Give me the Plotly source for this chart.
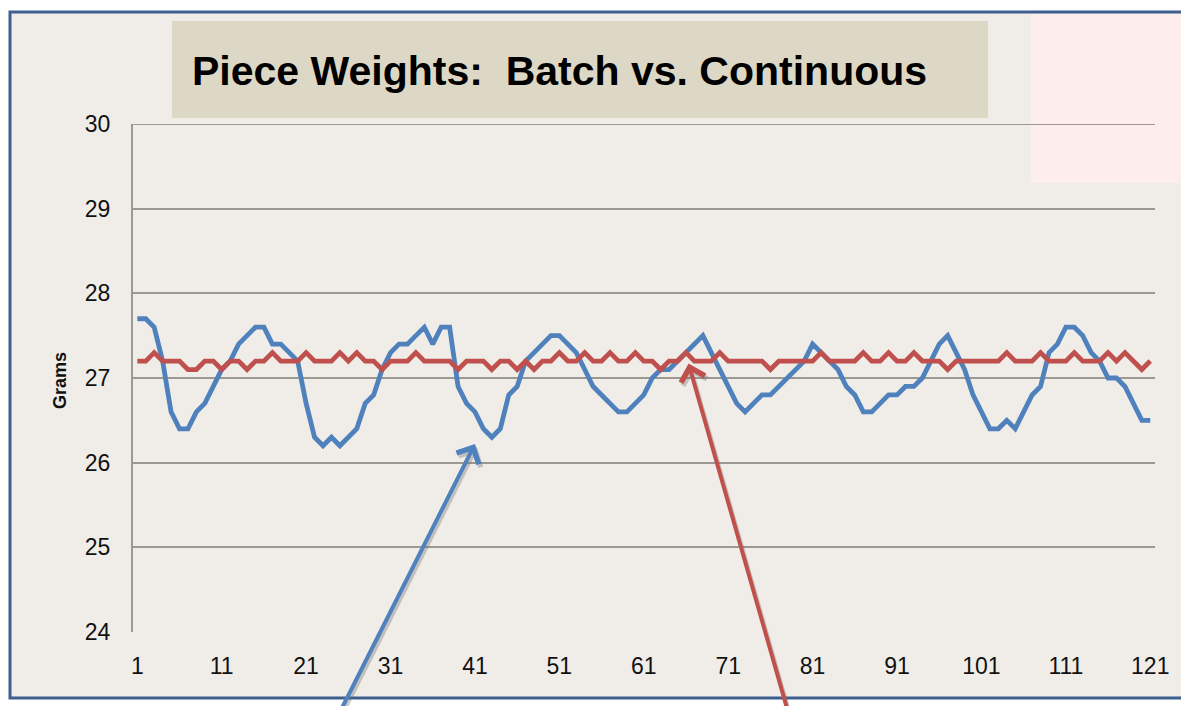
import plotly.graph_objects as go

piece = list(range(1, 122))

batch = [
    27.7, 27.7, 27.6, 27.2, 26.6, 26.4, 26.4, 26.6, 26.7, 26.9,
    27.1, 27.2, 27.4, 27.5, 27.6, 27.6, 27.4, 27.4, 27.3, 27.2,
    26.7, 26.3, 26.2, 26.3, 26.2, 26.3, 26.4, 26.7, 26.8, 27.1,
    27.3, 27.4, 27.4, 27.5, 27.6, 27.4, 27.6, 27.6, 26.9, 26.7,
    26.6, 26.4, 26.3, 26.4, 26.8, 26.9, 27.2, 27.3, 27.4, 27.5,
    27.5, 27.4, 27.3, 27.1, 26.9, 26.8, 26.7, 26.6, 26.6, 26.7,
    26.8, 27.0, 27.1, 27.1, 27.2, 27.3, 27.4, 27.5, 27.3, 27.1,
    26.9, 26.7, 26.6, 26.7, 26.8, 26.8, 26.9, 27.0, 27.1, 27.2,
    27.4, 27.3, 27.2, 27.1, 26.9, 26.8, 26.6, 26.6, 26.7, 26.8,
    26.8, 26.9, 26.9, 27.0, 27.2, 27.4, 27.5, 27.3, 27.1, 26.8,
    26.6, 26.4, 26.4, 26.5, 26.4, 26.6, 26.8, 26.9, 27.3, 27.4,
    27.6, 27.6, 27.5, 27.3, 27.2, 27.0, 27.0, 26.9, 26.7, 26.5,
    26.5,
]

continuous = [
    27.2, 27.2, 27.3, 27.2, 27.2, 27.2, 27.1, 27.1, 27.2, 27.2,
    27.1, 27.2, 27.2, 27.1, 27.2, 27.2, 27.3, 27.2, 27.2, 27.2,
    27.3, 27.2, 27.2, 27.2, 27.3, 27.2, 27.3, 27.2, 27.2, 27.1,
    27.2, 27.2, 27.2, 27.3, 27.2, 27.2, 27.2, 27.2, 27.1, 27.2,
    27.2, 27.2, 27.1, 27.2, 27.2, 27.1, 27.2, 27.1, 27.2, 27.2,
    27.3, 27.2, 27.2, 27.3, 27.2, 27.2, 27.3, 27.2, 27.2, 27.3,
    27.2, 27.2, 27.1, 27.2, 27.2, 27.3, 27.2, 27.2, 27.2, 27.3,
    27.2, 27.2, 27.2, 27.2, 27.2, 27.1, 27.2, 27.2, 27.2, 27.2,
    27.2, 27.3, 27.2, 27.2, 27.2, 27.2, 27.3, 27.2, 27.2, 27.3,
    27.2, 27.2, 27.3, 27.2, 27.2, 27.2, 27.1, 27.2, 27.2, 27.2,
    27.2, 27.2, 27.2, 27.3, 27.2, 27.2, 27.2, 27.3, 27.2, 27.2,
    27.2, 27.3, 27.2, 27.2, 27.2, 27.3, 27.2, 27.3, 27.2, 27.1,
    27.2,
]

x_ticks = [1, 11, 21, 31, 41, 51, 61, 71, 81, 91, 101, 111, 121]
y_ticks = [24, 25, 26, 27, 28, 29, 30]

title_text = "Piece Weights:&nbsp;&nbsp;Batch vs. Continuous"
y_title = "Grams"

BLUE = "#4F81BD"
RED = "#C0504D"
GRID = "#9C9892"
BG = "#F0EDE8"

# page has an 8px body margin: work in page pixels, convert to figure pixels
OFF = 8
W, H = 1189, 706
L, T = 133 - OFF, 124 - OFF
R = W - (1155 - OFF)
B = H - (632 - OFF)
PW, PH = W - L - R, H - T - B


def px(xp):
    return (xp - OFF - L) / PW


def py(yp):
    return (H - B - (yp - OFF)) / PH


fig = go.Figure()
fig.add_trace(go.Scatter(x=piece, y=batch, mode="lines",
                         line=dict(color=BLUE, width=4.8), name="Batch",
                         hoverinfo="skip"))
fig.add_trace(go.Scatter(x=piece, y=continuous, mode="lines",
                         line=dict(color=RED, width=4.8), name="Continuous",
                         hoverinfo="skip"))

shapes = [
    # outer frame
    dict(type="rect", xref="paper", yref="paper", layer="below",
         x0=px(10), x1=px(1200), y0=py(698), y1=py(12),
         fillcolor=BG, line=dict(color="#3D5F8F", width=3)),
    # pink corner
    dict(type="rect", xref="paper", yref="paper", layer="below",
         x0=px(1031), x1=px(1198), y0=py(183), y1=py(14),
         fillcolor="#FDEDEC", line=dict(width=0)),
    dict(type="rect", xref="paper", yref="paper", layer="below",
         x0=px(1184), x1=px(1198), y0=py(696), y1=py(183),
         fillcolor="#FDEDEC", line=dict(width=0)),
    # title box
    dict(type="rect", xref="paper", yref="paper", layer="below",
         x0=px(172), x1=px(988), y0=py(118), y1=py(21),
         fillcolor="#DDD8C5", line=dict(width=0)),
    # top gridline (30)
    dict(type="line", xref="paper", yref="y", layer="below",
         x0=0, x1=1, y0=30, y1=30, line=dict(color=GRID, width=2)),
]

annotations = [
    dict(text="<b>" + title_text + "</b>", xref="paper", yref="paper",
         x=px(190), y=py(71), xanchor="left", yanchor="middle",
         showarrow=False, font=dict(family="Liberation Sans, Arial", size=41,
                                    color="#000000")),
    dict(text="<b>" + y_title + "</b>", xref="paper", yref="paper",
         x=px(60), y=py(381), xanchor="center", yanchor="middle",
         textangle=-90, showarrow=False,
         font=dict(family="Liberation Sans, Arial", size=18, color="#111111")),
]

# arrows: (head x, head y in data units, tail offset in pixels, colour)
arrows = [
    (41.0, 26.22, -136, 280, BLUE),
    (66.3, 27.17, 100, 350, RED),
]
for hx, hy, ax, ay, col in arrows:
    annotations.append(dict(x=hx, y=hy, xref="x", yref="y", text="",
                            showarrow=True, ax=ax, ay=ay, xshift=2, yshift=-3,
                            arrowhead=4, arrowsize=1.2, arrowwidth=4,
                            arrowcolor="rgba(110,110,110,0.35)", standoff=0))
    annotations.append(dict(x=hx, y=hy, xref="x", yref="y", text="",
                            showarrow=True, ax=ax, ay=ay,
                            arrowhead=4, arrowsize=1.2, arrowwidth=4,
                            arrowcolor=col, standoff=0))

fig.update_layout(
    width=W, height=H,
    margin=dict(l=L, r=R, t=T, b=B, pad=0),
    paper_bgcolor="white",
    plot_bgcolor="rgba(0,0,0,0)",
    showlegend=False,
    shapes=shapes,
    annotations=annotations,
    font=dict(family="Liberation Sans, Arial", size=23, color="#111111"),
    xaxis=dict(range=[0.49, 121.56], tickmode="array", tickvals=x_ticks,
               ticktext=[str(v) for v in x_ticks], showgrid=False,
               zeroline=False, showline=False, ticks="",
               ticklabelstandoff=18),
    yaxis=dict(range=[24, 30], tickmode="array", tickvals=y_ticks,
               showgrid=True, gridcolor=GRID, gridwidth=2, zeroline=False,
               showline=True, linecolor=GRID, linewidth=2, ticks="",
               ticklabelstandoff=16),
)

fig.write_html("out.html")
